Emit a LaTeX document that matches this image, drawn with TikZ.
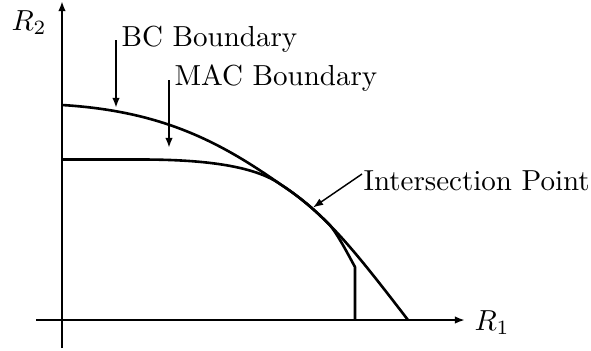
\documentclass[tikz,border=0pt]{standalone}
\usetikzlibrary{arrows.meta}
\begin{document}
\begin{tikzpicture}[x=0.345pt,y=-0.345pt,
  curve/.style={line width=0.9pt,line join=round},
  axis/.style={line width=0.9pt,-{Latex[length=3.5pt,width=2.6pt]}},
  pointer/.style={line width=0.9pt,-{Latex[length=3.5pt,width=2.6pt]}},
  thinpointer/.style={line width=0.5pt,-{Latex[length=3.5pt,width=2.6pt]}},
  lbl/.style={inner sep=0pt,anchor=base west}]
\useasboundingbox (0,0) rectangle (591,350);
% axes
\coordinate (xs) at (36,320);
\coordinate (xe) at (465,320);
\coordinate (ys) at (62,348);
\coordinate (ye) at (62,1);
\draw[axis] (xs) -- (xe);
\draw[axis] (ys) -- (ye);
\node[lbl] (r1) at (474,330) {$R_1$};
\node[lbl] (r2) at (11,30) {$R_2$};
% BC boundary
\coordinate (bc0) at (62,105);
\coordinate (j) at (280,184);
\coordinate (bc1) at (408,320);
\draw[curve] (bc0) .. controls (162,111) and (220,142) .. (j)
  .. controls (325,213.3) and (353,248.5) .. (bc1);
% MAC boundary
\coordinate (m0) at (62,159.5);
\coordinate (m1) at (140,159.5);
\coordinate (sp) at (328.66,223.94);
\coordinate (m2) at (355,267);
\coordinate (m3) at (355,320);
\draw[curve] (m0) -- (m1) .. controls (190,159.5) and (250,163) .. (j)
  .. controls (298,195.72) and (313.28,208.38) .. (sp)
  .. controls (336.7,232) and (350,258) .. (m2) -- (m3);
% labels
\node[lbl] (bc) at (121,46) {BC Boundary};
\node[lbl] (mac) at (174,85) {MAC Boundary};
\node[lbl] (int) at (363,190.5) {Intersection Point};
\coordinate (bca) at (116,40);
\coordinate (bcb) at (116,108);
\coordinate (maca) at (169,80);
\coordinate (macb) at (169,148);
\coordinate (inta) at (362,174);
\coordinate (intb) at (313,207.5);
\draw[pointer] (bca) -- (bcb);
\draw[pointer] (maca) -- (macb);
\draw[thinpointer] (inta) -- (intb);
\end{tikzpicture}
\end{document}
